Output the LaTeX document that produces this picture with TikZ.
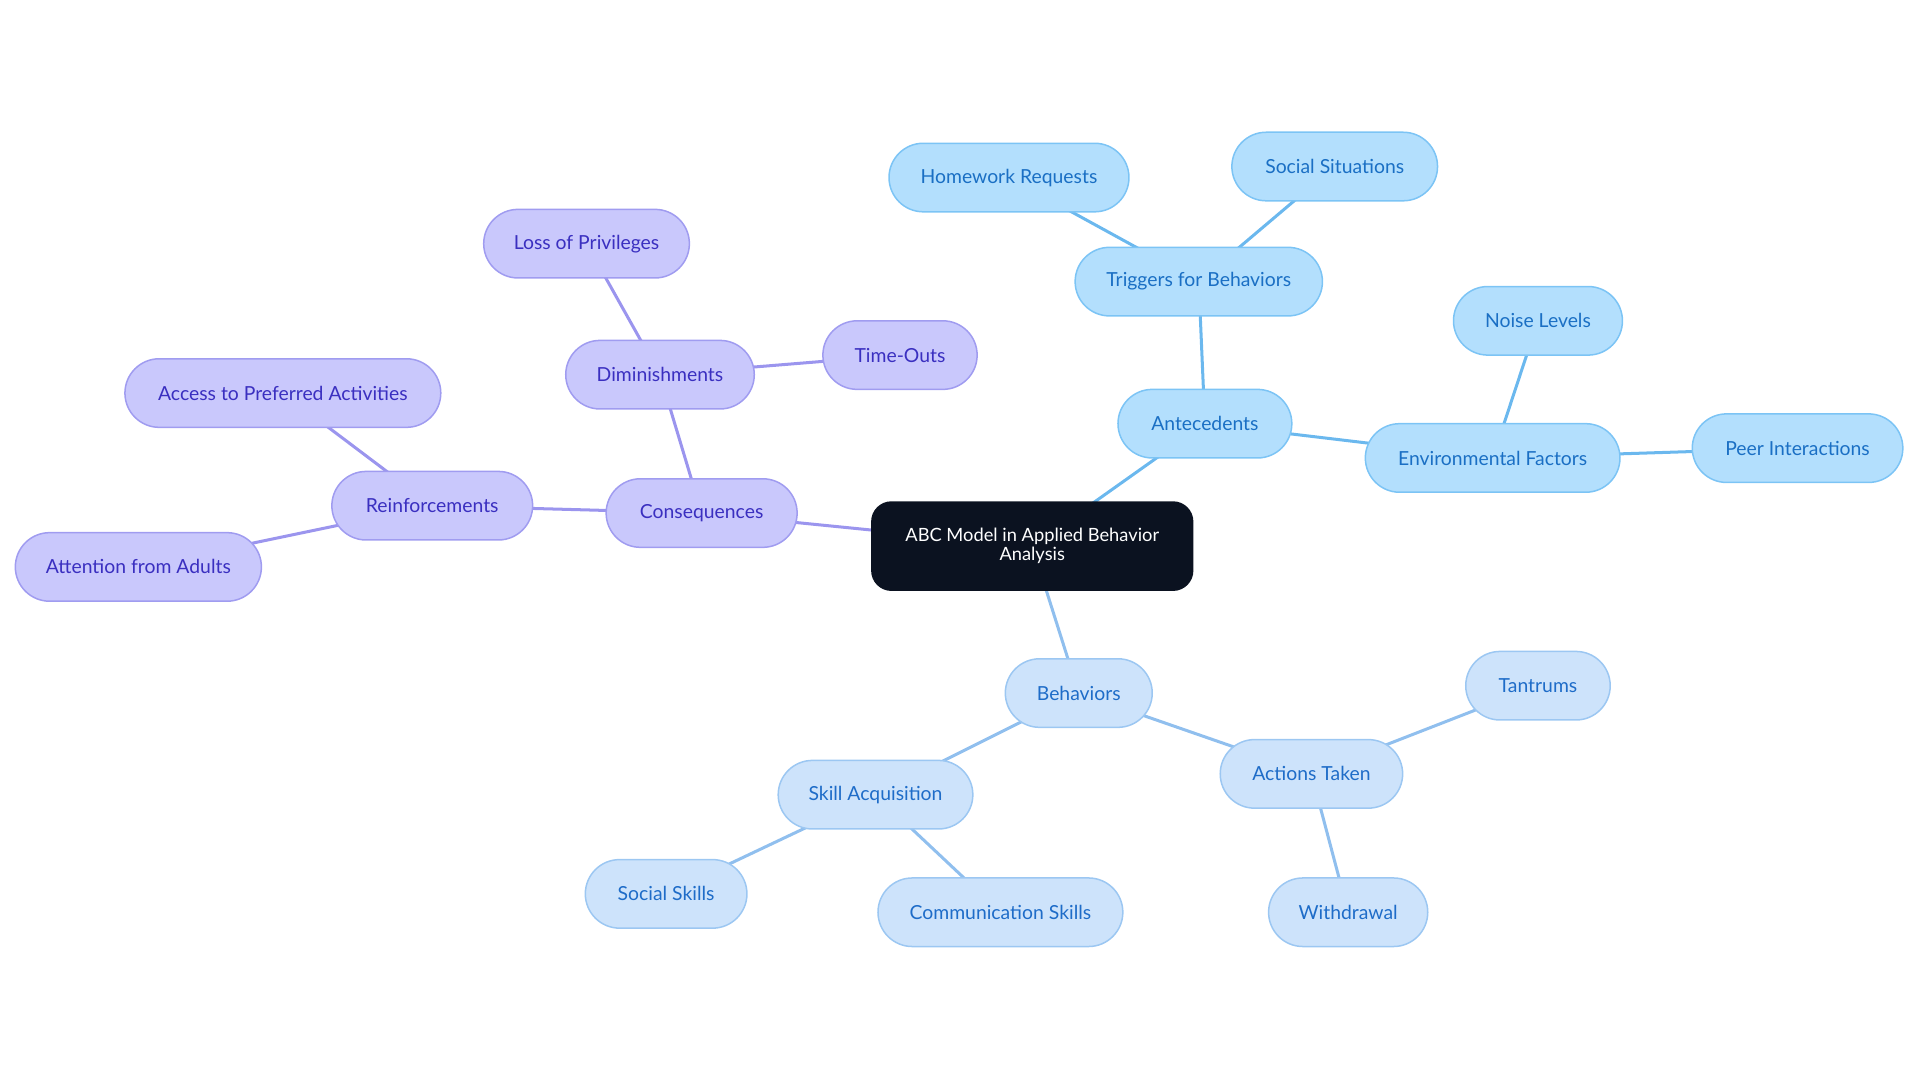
\documentclass[tikz,border=0pt]{standalone}
\usepackage{fontspec}
\setmainfont{Lato}
\usetikzlibrary{backgrounds}
\definecolor{aF}{HTML}{B3DFFD}\definecolor{aB}{HTML}{7CC4F5}\definecolor{aT}{HTML}{1A6FC4}\definecolor{aL}{HTML}{6BB8EE}
\definecolor{cF}{HTML}{C9C8FC}\definecolor{cB}{HTML}{A09CF0}\definecolor{cT}{HTML}{3A2FC0}\definecolor{cL}{HTML}{9B95EE}
\definecolor{bF}{HTML}{CDE3FB}\definecolor{bB}{HTML}{9CC7F2}\definecolor{bT}{HTML}{1E6CC8}\definecolor{bL}{HTML}{90BFEE}
\definecolor{rootF}{HTML}{0B1220}
\tikzset{
 x=0.02cm,y=-0.02cm,
 base/.style={rounded corners=0.56cm,minimum height=1.12cm,inner sep=0pt,font=\fontsize{9}{10}\selectfont,line width=0.7pt},
 anode/.style={base,fill=aF,draw=aB,text=aT},
 cnode/.style={base,fill=cF,draw=cB,text=cT},
 bnode/.style={base,fill=bF,draw=bB,text=bT},
 aedge/.style={draw=aL,line width=1.4pt},
 cedge/.style={draw=cL,line width=1.4pt},
 bedge/.style={draw=bL,line width=1.4pt},
}
\begin{document}
\begin{tikzpicture}
\useasboundingbox (0,0) rectangle (1568,884);
\node[base,fill=rootF,draw=rootF,text=white,minimum width=5.24cm,minimum height=1.44cm,rounded corners=0.32cm,align=center,font=\fontsize{8.5}{9}\selectfont] (root) at (843,446) {ABC Model in Applied Behavior\\Analysis};
\node[anode,minimum width=2.84cm] (ant) at (984,346) {Antecedents};
\node[anode,minimum width=4.04cm] (trig) at (979,230) {Triggers for Behaviors};
\node[anode,minimum width=3.92cm] (hw) at (824,145) {Homework Requests};
\node[anode,minimum width=3.36cm] (ss) at (1090,136) {Social Situations};
\node[anode,minimum width=4.16cm] (env) at (1219,374) {Environmental Factors};
\node[anode,minimum width=2.76cm] (noise) at (1256,262) {Noise Levels};
\node[anode,minimum width=3.44cm] (peer) at (1468,366) {Peer Interactions};
\node[cnode,minimum width=3.12cm] (cons) at (573,419) {Consequences};
\node[cnode,minimum width=3.08cm] (dim) at (539,306) {Diminishments};
\node[cnode,minimum width=3.36cm] (loss) at (479,199) {Loss of Privileges};
\node[cnode,minimum width=2.52cm] (time) at (735,290) {Time-Outs};
\node[cnode,minimum width=3.28cm] (reinf) at (353,413) {Reinforcements};
\node[cnode,minimum width=5.16cm] (acc) at (231,321) {Access to Preferred Activities};
\node[cnode,minimum width=4.02cm] (att) at (113,463) {Attention from Adults};
\node[bnode,minimum width=2.4cm] (beh) at (881,566) {Behaviors};
\node[bnode,minimum width=2.98cm] (act) at (1071,632) {Actions Taken};
\node[bnode,minimum width=2.36cm] (tan) at (1256,560) {Tantrums};
\node[bnode,minimum width=2.6cm] (wd) at (1101,745) {Withdrawal};
\node[bnode,minimum width=3.18cm] (skill) at (715,649) {Skill Acquisition};
\node[bnode,minimum width=2.64cm] (soc) at (544,730) {Social Skills};
\node[bnode,minimum width=4cm] (com) at (817,745) {Communication Skills};
\begin{scope}[on background layer]
\draw[aedge] (root.center)--(ant.center) (ant.center)--(trig.center) (trig.center)--(hw.center) (trig.center)--(ss.center) (ant.center)--(env.center) (env.center)--(noise.center) (env.center)--(peer.center);
\draw[cedge] (root.center)--(cons.center) (cons.center)--(dim.center) (dim.center)--(loss.center) (dim.center)--(time.center) (cons.center)--(reinf.center) (reinf.center)--(acc.center) (reinf.center)--(att.center);
\draw[bedge] (root.center)--(beh.center) (beh.center)--(act.center) (act.center)--(tan.center) (act.center)--(wd.center) (beh.center)--(skill.center) (skill.center)--(soc.center) (skill.center)--(com.center);
\end{scope}
\end{tikzpicture}
\end{document}
